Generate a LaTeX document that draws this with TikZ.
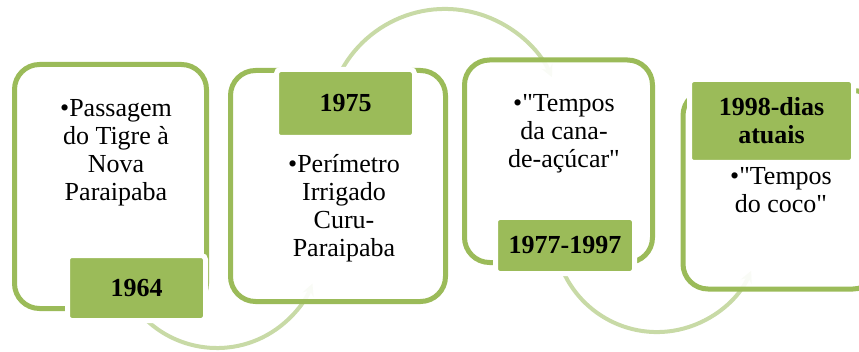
\documentclass[tikz,border=0pt]{standalone}
\usepackage{fontspec}
\setmainfont{Liberation Serif}
\usepackage{tikz}
\usetikzlibrary{arrows, positioning}
\definecolor{olivegreen}{HTML}{9BBB59}
\definecolor{palegreen}{HTML}{C8DAA6}
\newcommand{\dq}{\XeTeXglyph\XeTeXcharglyph"22\relax}
\tikzstyle{period} = [rectangle, rounded corners=25pt, draw=olivegreen, line width=5pt, fill=white, fill opacity=0.9, inner sep=0pt]
\tikzstyle{year} = [rectangle, rounded corners=4pt, draw=white, line width=5pt, fill=olivegreen, inner sep=0pt, align=center, font=\fontsize{26}{28}\selectfont\bfseries]
\tikzstyle{event} = [inner sep=0pt, align=center, anchor=north, font=\fontsize{26}{28}\selectfont]
\tikzstyle{flow} = [line width=4pt, draw=palegreen, ->, >=stealth]

\begin{document}
\begin{tikzpicture}[x=1pt, y=1pt]
        \useasboundingbox (0,0) rectangle (859,351);
        \clip (0,0) rectangle (859,351);

        % arcs between the periods
        \coordinate (arcA) at (132.6,46.9);
        \coordinate (arcB) at (334.1,264.4);
        \coordinate (arcC) at (557.5,95.3);
        \draw [flow] (arcA) arc[start angle=215, end angle=338, radius=103];
        \draw [flow] (arcB) arc[start angle=160, end angle=25, radius=118];
        \draw [flow] (arcC) arc[start angle=195, end angle=336, radius=103];

        \node (box1) [period, minimum width=192pt, minimum height=244pt] at (110.5,164.5) {};
        \node (box2) [period, minimum width=215pt, minimum height=231pt] at (338,165) {};
        \node (box3) [period, minimum width=188pt, minimum height=202.5pt] at (558.5,189.75) {};
        \node (box4) [period, minimum width=195pt, minimum height=198.5pt] at (780.5,161.25) {};

        \node (y1964) [year, minimum width=138pt, minimum height=65pt] at (136.5,63) {1964};
        \node (y1975) [year, minimum width=138pt, minimum height=68pt] at (345.5,247.5) {1975};
        \node (y1977) [year, minimum width=139pt, minimum height=56pt] at (565,105.5) {1977-1997};
        \node (y1998) [year, minimum width=164pt, minimum height=83pt] at (771.5,230) {1998-dias\\atuais};

        \node (txt1) [event] at (116,251.5) {\textbullet Passagem\\do Tigre à\\Nova\\Paraipaba};
        \node (txt2) [event] at (344,197) {\textbullet Perímetro\\Irrigado\\Curu-\\Paraipaba};
        \node (txt3) [event] at (564,256.5) {\textbullet\dq Tempos\\da cana-\\de-açúcar\dq};
        \node (txt4) [event] at (781,183.5) {\textbullet\dq Tempos\\do coco\dq};

\end{tikzpicture}
\end{document}
